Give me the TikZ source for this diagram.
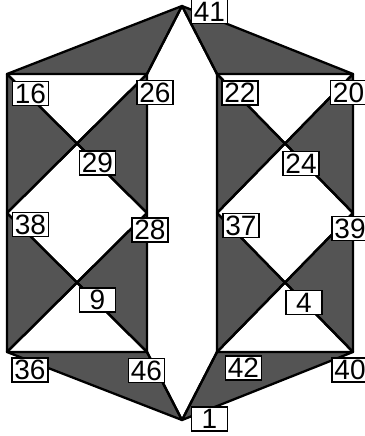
\documentclass[tikz,border=0pt]{standalone}
\usepackage{fontspec}
\setmainfont{Liberation Sans}
\begin{document}
\begin{tikzpicture}[x=1pt,y=-1pt,
  edge/.style={line width=2.3pt, line join=round, line cap=round},
  shade/.style={fill=black!67, draw=black, line width=2.3pt, line join=round},
  lab/.style={draw=black, fill=white, line width=1.4pt, inner sep=0pt,
    minimum width=36pt, minimum height=24pt, font=\fontsize{28}{28}\selectfont}]
\useasboundingbox (0,0) rectangle (364,436);
\fill[white] (0,0) rectangle (364,436);
% vertices
\coordinate (v41) at (182,6);
\coordinate (v16) at (7,74);
\coordinate (v26) at (147,74);
\coordinate (v22) at (217,74);
\coordinate (v20) at (353,74);
\coordinate (v29) at (77,143.5);
\coordinate (v24) at (285,143.5);
\coordinate (v38) at (7,213);
\coordinate (v28) at (147,213);
\coordinate (v37) at (217,213);
\coordinate (v39) at (353,213);
\coordinate (v9) at (77,282.5);
\coordinate (v4) at (285,282.5);
\coordinate (v36) at (7,352);
\coordinate (v46) at (147,352);
\coordinate (v42) at (217,352);
\coordinate (v40) at (353,352);
\coordinate (v1) at (182,420);
% shaded triangles
\path[shade] (v16) -- (v41) -- (v26) -- cycle;
\path[shade] (v22) -- (v41) -- (v20) -- cycle;
\path[shade] (v16) -- (v29) -- (v38) -- cycle;
\path[shade] (v26) -- (v29) -- (v28) -- cycle;
\path[shade] (v38) -- (v9) -- (v36) -- cycle;
\path[shade] (v28) -- (v9) -- (v46) -- cycle;
\path[shade] (v22) -- (v24) -- (v37) -- cycle;
\path[shade] (v20) -- (v24) -- (v39) -- cycle;
\path[shade] (v37) -- (v4) -- (v42) -- cycle;
\path[shade] (v39) -- (v4) -- (v40) -- cycle;
\path[shade] (v36) -- (v46) -- (v1) -- cycle;
\path[shade] (v42) -- (v40) -- (v1) -- cycle;
% edges
\draw[edge] (v16) -- (v26) (v22) -- (v20);
\draw[edge] (v36) -- (v46) (v42) -- (v40);
\draw[edge] (v16) -- (v38) -- (v36);
\draw[edge] (v26) -- (v28) -- (v46);
\draw[edge] (v22) -- (v37) -- (v42);
\draw[edge] (v20) -- (v39) -- (v40);
\draw[edge] (v16) -- (v28) (v26) -- (v38);
\draw[edge] (v38) -- (v46) (v28) -- (v36);
\draw[edge] (v22) -- (v39) (v20) -- (v37);
\draw[edge] (v37) -- (v40) (v39) -- (v42);
\draw[edge] (v26) -- (v41) -- (v22);
\draw[edge] (v46) -- (v1) -- (v42);
% labels
\node[lab] (n41) at (209.5,11.5) {41};
\node[lab] (n16) at (30.5,93.5) {16};
\node[lab] (n26) at (155,92.5) {26};
\node[lab] (n22) at (240,93) {22};
\node[lab] (n20) at (348.5,92.5) {20};
\node[lab] (n29) at (97.5,163) {29};
\node[lab] (n24) at (301,163.5) {24};
\node[lab] (n38) at (30.5,224.5) {38};
\node[lab] (n28) at (150,230) {28};
\node[lab] (n37) at (241,225.5) {37};
\node[lab] (n39) at (350,228.5) {39};
\node[lab] (n9) at (97.5,300) {9};
\node[lab] (n4) at (304,302.5) {4};
\node[lab] (n36) at (30,370) {36};
\node[lab] (n46) at (146.5,370.5) {46};
\node[lab] (n42) at (243.5,368) {42};
\node[lab] (n40) at (350,370) {40};
\node[lab] (n1) at (209.5,419) {1};
\end{tikzpicture}
\end{document}
